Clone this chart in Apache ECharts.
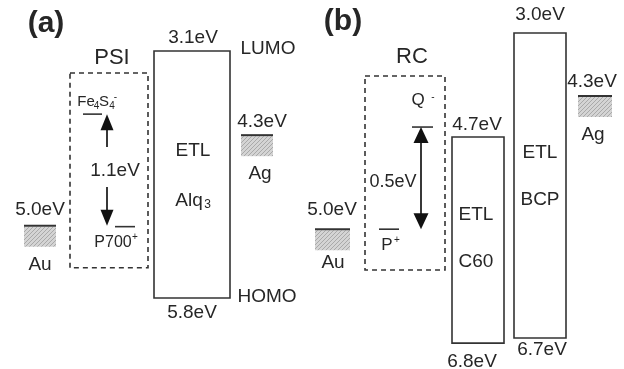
<!DOCTYPE html>
<html><head><meta charset="utf-8">
<script src="https://cdn.jsdelivr.net/npm/echarts@6/dist/echarts.min.js"></script>
<style>html,body{margin:0;padding:0;background:#fff}#c{width:624px;height:369px}</style>
</head><body><div id="c"></div><script>
// ---------------- data (eV) ----------------
const panelTitles = ['(a)', '(b)'];
const proteinNames = ['PSI', 'RC'];
const electrodeNames = ['Au', 'Ag'];
const electrodeWF = [5.0, 4.3];          // work functions printed on the figure
const etlNames = ['Alq', 'C60', 'BCP'];   // Alq3 subscript drawn separately
const etlLUMO = [3.1, 4.7, 3.0];
const etlHOMO = [5.8, 6.8, 6.7];
const proteinGap = [1.1, 0.5];
// Levels as drawn in the schematic (not to scale), in each panel's eV scale
const drawnA = [5.01, 4.02, 3.79, 5.02, 3.34, 5.47];          // Au, Ag, Fe4S4-, P700+, box top, box bottom
const drawnB = [5.38, 3.765, 4.141, 5.38, 4.262, 6.762, 3.522, 5.876]; // Au, Ag, Q-, P+, C60 top, C60 bottom, box top, box bottom

// ---------------- styles ----------------
const FONT = '"Liberation Sans", Arial, sans-serif';
const INK = '#262626';
const LINE = '#333';
const FS = 19;

function hatch() {
  const c = document.createElement('canvas');
  c.width = 4; c.height = 4;
  const g = c.getContext('2d');
  g.fillStyle = '#d4d4d4'; g.fillRect(0, 0, 4, 4);
  g.strokeStyle = '#a9a9a9'; g.lineWidth = 1;
  g.beginPath(); g.moveTo(0, 4); g.lineTo(4, 0); g.moveTo(-1, 1); g.lineTo(1, -1); g.moveTo(3, 5); g.lineTo(5, 3); g.stroke();
  return c;
}
const HATCH = { image: hatch(), repeat: 'repeat' };

function txt(s, x, y, size, extra) {
  return { type: 'text', style: Object.assign({ text: s, x: x, y: y, font: (extra && extra.bold ? 'bold ' : '') + size + 'px ' + FONT, fill: INK, align: 'center', verticalAlign: 'middle' }, extra && extra.style || {}) };
}
function rect(x0, y0, x1, y1, dashed) {
  return { type: 'rect', shape: { x: x0, y: y0, width: x1 - x0, height: y1 - y0 }, style: { fill: null, stroke: LINE, lineWidth: 1.6, lineDash: dashed ? [5, 4] : null } };
}
function hline(x0, x1, y, w) {
  return { type: 'line', shape: { x1: x0, y1: y, x2: x1, y2: y }, style: { stroke: LINE, lineWidth: w || 1.8 } };
}
function electrode(x0, x1, y) {
  return [
    { type: 'rect', shape: { x: x0, y: y + 1, width: x1 - x0, height: 20 }, style: { fill: HATCH } },
    hline(x0, x1, y, 2)
  ];
}
function arrowHead(x, yApex, dir, w) { // dir -1 pointing up, +1 pointing down
  const h = 16;
  return { type: 'polygon', shape: { points: [[x, yApex], [x - w / 2, yApex - dir * h], [x + w / 2, yApex - dir * h]] }, style: { fill: '#111' } };
}
function vline(x, y0, y1) {
  return { type: 'line', shape: { x1: x, y1: y0, x2: x, y2: y1 }, style: { stroke: '#222', lineWidth: 1.8 } };
}

function renderA(params, api) {
  const Y = e => api.coord([0, e])[1];
  const X = x => api.coord([x, 3])[0];
  const [au, ag, fe, p700, bt, bb] = drawnA;
  const lumo = Y(etlLUMO[0]), homo = Y(etlHOMO[0]);
  const yAu = Y(au), yAg = Y(ag), yFe = Y(fe), yP = Y(p700);
  const ch = [];
  ch.push(txt(panelTitles[0], X(46), 24, 30, { bold: true }));
  ch.push(txt(proteinNames[0], X(112), Y(bt) - 15, 22));
  ch.push(rect(X(70), Y(bt), X(148), Y(bb), true));
  ch.push(rect(X(154), lumo, X(230), homo));
  ch.push(txt(etlLUMO[0].toFixed(1) + 'eV', X(193), lumo - 13, FS));
  ch.push(txt('LUMO', X(268), lumo - 2, FS));
  ch.push(txt(etlHOMO[0].toFixed(1) + 'eV', X(192), homo + 15, FS));
  ch.push(txt('HOMO', X(267), homo - 1, FS));
  const mid = (lumo + homo) / 2;
  ch.push(txt('ETL', X(193), mid - 24, FS));
  ch.push(txt(etlNames[0], X(189), mid + 26, FS));
  ch.push(txt('3', X(207.5), mid + 30, 12));
  ch.push(...electrode(X(24), X(56), yAu));
  ch.push(txt(electrodeWF[0].toFixed(1) + 'eV', X(40), yAu - 16, FS));
  ch.push(txt(electrodeNames[0], X(40), yAu + 39, FS));
  ch.push(...electrode(X(241), X(273), yAg));
  ch.push(txt(electrodeWF[1].toFixed(1) + 'eV', X(262), yAg - 13, FS));
  ch.push(txt(electrodeNames[1], X(260), yAg + 39, FS));
  // Fe4S4-
  ch.push(hline(X(83), X(102), yFe, 1.6));
  ch.push(txt('Fe', X(86), yFe - 12, 15));
  ch.push(txt('4', X(96.5), yFe - 8, 10));
  ch.push(txt('S', X(104), yFe - 12, 15));
  ch.push(txt('4', X(112), yFe - 8, 10));
  ch.push(txt('-', X(115.5), yFe - 17, 10));
  // P700+
  ch.push(hline(X(115), X(135), yP, 1.6));
  ch.push(txt('P700', X(113), yP + 16, 16));
  ch.push(txt('+', X(135), yP + 11, 10));
  // arrows
  ch.push(vline(X(107), yFe + 15, 147));
  ch.push(arrowHead(X(107), yFe, -1, 13));
  ch.push(vline(X(107), 187, yP - 16));
  ch.push(arrowHead(X(107), yP - 1, 1, 13));
  ch.push(txt(proteinGap[0].toFixed(1) + 'eV', X(115), (yFe + yP) / 2, FS));
  return { type: 'group', children: ch };
}

function renderB(params, api) {
  const Y = e => api.coord([0, e])[1];
  const X = x => api.coord([x, 3])[0];
  const [au, ag, q, p, ct, cb, bt, bb] = drawnB;
  const yAu = Y(au), yAg = Y(ag), yQ = Y(q), yP = Y(p), yCt = Y(ct), yCb = Y(cb);
  const bl = Y(etlLUMO[2]), bh = Y(etlHOMO[2]);
  const ch = [];
  ch.push(txt(panelTitles[1], X(343), 22, 30, { bold: true }));
  ch.push(txt(proteinNames[1], X(412), Y(bt) - 19, 22));
  ch.push(rect(X(365), Y(bt), X(445), Y(bb), true));
  // C60
  ch.push(rect(X(452), yCt, X(504), yCb));
  ch.push(txt(etlLUMO[1].toFixed(1) + 'eV', X(477), yCt - 12, FS));
  ch.push(txt(etlHOMO[1].toFixed(1) + 'eV', X(472), yCb + 19, FS));
  ch.push(txt('ETL', X(476), 215, FS));
  ch.push(txt(etlNames[1], X(476), 262, FS));
  // BCP
  ch.push(rect(X(514), bl, X(566), bh));
  ch.push(txt(etlLUMO[2].toFixed(1) + 'eV', X(540), bl - 18, FS));
  ch.push(txt(etlHOMO[2].toFixed(1) + 'eV', X(542), bh + 12, FS));
  ch.push(txt('ETL', X(540), 153, FS));
  ch.push(txt(etlNames[2], X(540), 200, FS));
  // electrodes
  ch.push(...electrode(X(315), X(350), yAu));
  ch.push(txt(electrodeWF[0].toFixed(1) + 'eV', X(332), yAu - 19, FS));
  ch.push(txt(electrodeNames[0], X(333), yAu + 34, FS));
  ch.push(...electrode(X(578), X(612), yAg));
  ch.push(txt(electrodeWF[1].toFixed(1) + 'eV', X(592), yAg - 14, FS));
  ch.push(txt(electrodeNames[1], X(593), yAg + 39, FS));
  // Q- and P+
  ch.push(hline(X(412), X(433), yQ, 1.6));
  ch.push(txt('Q', X(418), yQ - 27, 17));
  ch.push(txt('-', X(433), yQ - 30, 10));
  ch.push(hline(X(379), X(399), yP, 1.6));
  ch.push(txt('P', X(387), yP + 16, 17));
  ch.push(txt('+', X(397), yP + 11, 10));
  ch.push(vline(X(421), yQ + 15, yP - 15));
  ch.push(arrowHead(X(421), yQ, -1, 15));
  ch.push(arrowHead(X(421), yP, 1, 15));
  ch.push(txt(proteinGap[1].toFixed(1) + 'eV', X(393), 182, 18));
  return { type: 'group', children: ch };
}

const chart = echarts.init(document.getElementById('c'), null, { renderer: 'canvas' });
chart.setOption({
  animation: false,
  backgroundColor: '#fff',
  grid: { left: 0, right: 0, top: 0, bottom: 0 },
  xAxis: { type: 'value', min: 0, max: 624, show: false },
  yAxis: [
    { type: 'value', min: 2.5425, max: 6.576, inverse: true, show: false },
    { type: 'value', min: 2.5997, max: 7.0762, inverse: true, show: false }
  ],
  series: [
    { type: 'custom', yAxisIndex: 0, data: [[0, 3]], renderItem: renderA, silent: true, clip: false },
    { type: 'custom', yAxisIndex: 1, data: [[0, 3]], renderItem: renderB, silent: true, clip: false }
  ]
});
</script></body></html>
